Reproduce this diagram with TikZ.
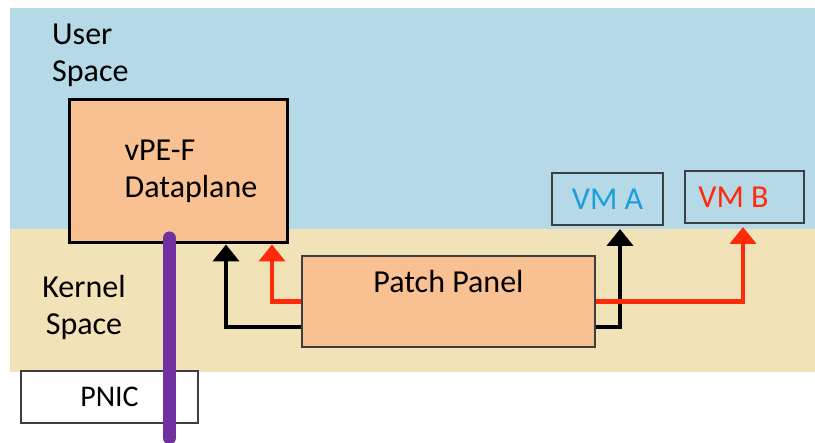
\documentclass[tikz,border=0pt]{standalone}
\usepackage{fontspec}
\setmainfont{Carlito}
\usepackage{xcolor}
\usetikzlibrary{arrows.meta,positioning}
\definecolor{userbg}{HTML}{B6D9E7}
\definecolor{kernelbg}{HTML}{F1E2B8}
\definecolor{peach}{HTML}{F9C092}
\definecolor{frame}{HTML}{3A3F44}
\definecolor{vmblue}{HTML}{1A9FDB}
\definecolor{vmred}{HTML}{FF2A0A}
\definecolor{purple}{HTML}{7030A0}

\begin{document}
\begin{tikzpicture}[
  x=1pt, y=-1pt,
  font=\fontsize{32}{37}\selectfont,
  dpbox/.style={draw=black, line width=3pt, fill=peach, inner sep=0pt},
  ppbox/.style={draw=frame, line width=1.5pt, fill=peach, inner sep=0pt},
  vmbox/.style={draw=frame, line width=2pt, fill=userbg, inner sep=0pt, minimum width=111pt, minimum height=52pt, text height=21pt, text depth=0pt},
  arr/.style={-{Triangle[width=26pt,length=17pt]}, line width=4.5pt},
  lbl/.style={inner sep=0pt}
]
\useasboundingbox (0,0) rectangle (815,443);
% layers
\fill[userbg] (10,8) rectangle (815,229);
\fill[kernelbg] (10,229) rectangle (815,372);
\node[lbl, align=left, anchor=base west] (user) at (52,82) {User\\Space};
\node[lbl, align=center, anchor=base] (kernel) at (84,335) {Kernel\\Space};

% boxes
\node[dpbox, minimum width=218pt, minimum height=143pt, align=left] (dp) at (178,171.5)
  {\hspace*{26pt}vPE-F\\\hspace*{26pt}Dataplane};
\node[ppbox, minimum width=293pt, minimum height=91pt, text height=22pt, text depth=39pt] (pp) at (448.5,301.5) {Patch Panel};
\node[vmbox, text=vmblue] (vma) at (607.5,199) {VM A};
\node[vmbox, text=vmred, minimum width=119pt] (vmb) at (744.5,197) {VM B\hspace*{22pt}};
\node[draw=frame, line width=1.5pt, fill=white, minimum width=177pt, minimum height=52pt, text height=20pt, text depth=0pt, inner sep=0pt, font=\fontsize{30}{36}\selectfont] (pnic) at (109.5,397) {PNIC};

% purple link
\draw[purple, line width=13pt, line cap=round] (169.5,238) -- (169.5,438);

% arrows
\draw[arr, black] ([yshift=-25.5pt]pp.west) -| ([xshift=48pt]dp.south);
\draw[arr, vmred] (pp.west) -| ([xshift=94pt]dp.south);
\draw[arr, black, shorten >=3pt] ([yshift=-25.5pt]pp.east) -| ([xshift=12.5pt]vma.south);
\draw[arr, vmred, shorten >=3pt] (pp.east) -| ([xshift=-1.5pt]vmb.south);
\end{tikzpicture}
\end{document}
